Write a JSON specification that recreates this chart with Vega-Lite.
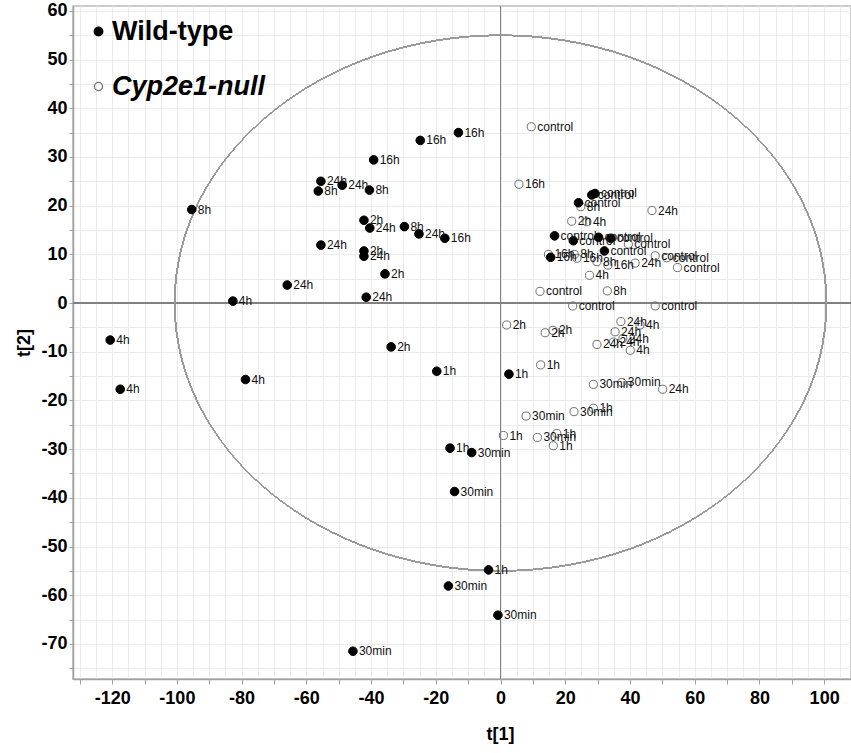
{
  "$schema": "https://vega.github.io/schema/vega-lite/v6.json",
  "width": 778,
  "height": 673,
  "autosize": {"type": "none"},
  "padding": {"left": 73, "top": 6, "right": 0, "bottom": 74},
  "background": "white",
  "config": {
    "view": {"stroke": "#cccccc", "strokeWidth": 2},
    "font": "Liberation Sans"
  },
  "data": {
    "values": [
      {"g": "Cyp2e1-null", "t1": 9.5, "t2": 36.2, "lab": "control"},
      {"g": "Cyp2e1-null", "t1": 12.2, "t2": 2.4, "lab": "control"},
      {"g": "Cyp2e1-null", "t1": 22.3, "t2": -0.6, "lab": "control"},
      {"g": "Cyp2e1-null", "t1": 47.8, "t2": -0.6, "lab": "control"},
      {"g": "Cyp2e1-null", "t1": 39.5, "t2": 12.1, "lab": "control"},
      {"g": "Cyp2e1-null", "t1": 47.8, "t2": 9.7, "lab": "control"},
      {"g": "Cyp2e1-null", "t1": 51.4, "t2": 9.3, "lab": "control"},
      {"g": "Cyp2e1-null", "t1": 54.7, "t2": 7.3, "lab": "control"},
      {"g": "Cyp2e1-null", "t1": 7.9, "t2": -23.2, "lab": "30min"},
      {"g": "Cyp2e1-null", "t1": 22.7, "t2": -22.3, "lab": "30min"},
      {"g": "Cyp2e1-null", "t1": 28.7, "t2": -16.7, "lab": "30min"},
      {"g": "Cyp2e1-null", "t1": 37.5, "t2": -16.3, "lab": "30min"},
      {"g": "Cyp2e1-null", "t1": 11.4, "t2": -27.6, "lab": "30min"},
      {"g": "Cyp2e1-null", "t1": 12.4, "t2": -12.7, "lab": "1h"},
      {"g": "Cyp2e1-null", "t1": 28.7, "t2": -21.6, "lab": "1h"},
      {"g": "Cyp2e1-null", "t1": 0.9, "t2": -27.2, "lab": "1h"},
      {"g": "Cyp2e1-null", "t1": 17.4, "t2": -26.8, "lab": "1h"},
      {"g": "Cyp2e1-null", "t1": 16.3, "t2": -29.3, "lab": "1h"},
      {"g": "Cyp2e1-null", "t1": 1.9, "t2": -4.5, "lab": "2h"},
      {"g": "Cyp2e1-null", "t1": 13.8, "t2": -6.1, "lab": "2h"},
      {"g": "Cyp2e1-null", "t1": 16.2, "t2": -5.6, "lab": "2h"},
      {"g": "Cyp2e1-null", "t1": 22.0, "t2": 16.8, "lab": "2h"},
      {"g": "Cyp2e1-null", "t1": 27.5, "t2": 5.7, "lab": "4h"},
      {"g": "Cyp2e1-null", "t1": 26.7, "t2": 16.7, "lab": "4h"},
      {"g": "Cyp2e1-null", "t1": 43.1, "t2": -4.5, "lab": "4h"},
      {"g": "Cyp2e1-null", "t1": 40.1, "t2": -9.7, "lab": "4h"},
      {"g": "Cyp2e1-null", "t1": 33.0, "t2": 2.5, "lab": "8h"},
      {"g": "Cyp2e1-null", "t1": 24.8, "t2": 19.8, "lab": "8h"},
      {"g": "Cyp2e1-null", "t1": 22.8, "t2": 10.0, "lab": "8h"},
      {"g": "Cyp2e1-null", "t1": 29.8, "t2": 8.5, "lab": "8h"},
      {"g": "Cyp2e1-null", "t1": 5.7, "t2": 24.4, "lab": "16h"},
      {"g": "Cyp2e1-null", "t1": 14.8, "t2": 10.0, "lab": "16h"},
      {"g": "Cyp2e1-null", "t1": 23.6, "t2": 9.2, "lab": "16h"},
      {"g": "Cyp2e1-null", "t1": 33.2, "t2": 7.8, "lab": "16h"},
      {"g": "Cyp2e1-null", "t1": 46.8, "t2": 19.0, "lab": "24h"},
      {"g": "Cyp2e1-null", "t1": 41.6, "t2": 8.2, "lab": "24h"},
      {"g": "Cyp2e1-null", "t1": 50.1, "t2": -17.7, "lab": "24h"},
      {"g": "Cyp2e1-null", "t1": 37.8, "t2": -7.3, "lab": "24h"},
      {"g": "Cyp2e1-null", "t1": 29.8, "t2": -8.5, "lab": "24h"},
      {"g": "Cyp2e1-null", "t1": 34.9, "t2": -8.0, "lab": "24h"},
      {"g": "Cyp2e1-null", "t1": 35.4, "t2": -5.9, "lab": "24h"},
      {"g": "Cyp2e1-null", "t1": 37.2, "t2": -3.8, "lab": "24h"},
      {"g": "Wild-type", "t1": 28.2, "t2": 22.2, "lab": "control"},
      {"g": "Wild-type", "t1": 29.2, "t2": 22.5, "lab": "control"},
      {"g": "Wild-type", "t1": 24.1, "t2": 20.6, "lab": "control"},
      {"g": "Wild-type", "t1": 16.7, "t2": 13.8, "lab": "control"},
      {"g": "Wild-type", "t1": 22.5, "t2": 12.8, "lab": "control"},
      {"g": "Wild-type", "t1": 30.3, "t2": 13.5, "lab": "control"},
      {"g": "Wild-type", "t1": 34.1, "t2": 13.3, "lab": "control"},
      {"g": "Wild-type", "t1": 32.1, "t2": 10.7, "lab": "control"},
      {"g": "Wild-type", "t1": -8.9, "t2": -30.7, "lab": "30min"},
      {"g": "Wild-type", "t1": -14.2, "t2": -38.7, "lab": "30min"},
      {"g": "Wild-type", "t1": -16.1, "t2": -58.1, "lab": "30min"},
      {"g": "Wild-type", "t1": -0.8, "t2": -64.1, "lab": "30min"},
      {"g": "Wild-type", "t1": -45.6, "t2": -71.5, "lab": "30min"},
      {"g": "Wild-type", "t1": -19.7, "t2": -14.0, "lab": "1h"},
      {"g": "Wild-type", "t1": 2.6, "t2": -14.6, "lab": "1h"},
      {"g": "Wild-type", "t1": -15.6, "t2": -29.8, "lab": "1h"},
      {"g": "Wild-type", "t1": -3.7, "t2": -54.8, "lab": "1h"},
      {"g": "Wild-type", "t1": -42.2, "t2": 17.0, "lab": "2h"},
      {"g": "Wild-type", "t1": -42.2, "t2": 10.7, "lab": "2h"},
      {"g": "Wild-type", "t1": -35.7, "t2": 6.0, "lab": "2h"},
      {"g": "Wild-type", "t1": -33.8, "t2": -9.0, "lab": "2h"},
      {"g": "Wild-type", "t1": -120.6, "t2": -7.6, "lab": "4h"},
      {"g": "Wild-type", "t1": -117.5, "t2": -17.7, "lab": "4h"},
      {"g": "Wild-type", "t1": -78.8, "t2": -15.7, "lab": "4h"},
      {"g": "Wild-type", "t1": -82.7, "t2": 0.4, "lab": "4h"},
      {"g": "Wild-type", "t1": -95.4, "t2": 19.2, "lab": "8h"},
      {"g": "Wild-type", "t1": -56.3, "t2": 23.0, "lab": "8h"},
      {"g": "Wild-type", "t1": -40.5, "t2": 23.2, "lab": "8h"},
      {"g": "Wild-type", "t1": -29.7, "t2": 15.7, "lab": "8h"},
      {"g": "Wild-type", "t1": -13.0, "t2": 35.0, "lab": "16h"},
      {"g": "Wild-type", "t1": -24.8, "t2": 33.4, "lab": "16h"},
      {"g": "Wild-type", "t1": -39.2, "t2": 29.4, "lab": "16h"},
      {"g": "Wild-type", "t1": -17.2, "t2": 13.3, "lab": "16h"},
      {"g": "Wild-type", "t1": 15.5, "t2": 9.4, "lab": "16h"},
      {"g": "Wild-type", "t1": -55.5, "t2": 25.0, "lab": "24h"},
      {"g": "Wild-type", "t1": -48.9, "t2": 24.2, "lab": "24h"},
      {"g": "Wild-type", "t1": -40.4, "t2": 15.4, "lab": "24h"},
      {"g": "Wild-type", "t1": -25.2, "t2": 14.2, "lab": "24h"},
      {"g": "Wild-type", "t1": -42.2, "t2": 9.6, "lab": "24h"},
      {"g": "Wild-type", "t1": -55.5, "t2": 11.9, "lab": "24h"},
      {"g": "Wild-type", "t1": -65.9, "t2": 3.7, "lab": "24h"},
      {"g": "Wild-type", "t1": -41.5, "t2": 1.2, "lab": "24h"}
    ]
  },
  "encoding": {
    "x": {
      "field": "t1", "type": "quantitative",
      "scale": {"domain": [-132.1, 108.3], "nice": false, "zero": false},
      "axis": {
        "values": [-130,-125,-120,-115,-110,-105,-100,-95,-90,-85,-80,-75,-70,-65,-60,-55,-50,-45,-40,-35,-30,-25,-20,-15,-10,-5,0,5,10,15,20,25,30,35,40,45,50,55,60,65,70,75,80,85,90,95,100,105],
        "grid": true, "gridColor": "#ebebeb", "gridWidth": 1,
        "domainColor": "#a0a0a0", "domainWidth": 1.5,
        "tickColor": "#a0a0a0", "tickSize": 5, "tickWidth": 1,
        "tickOpacity": {"condition": {"test": "datum.value % 10 === 0", "value": 1}, "value": 0},
        "labelExpr": "datum.value % 20 === 0 ? '' + datum.value : ''",
        "labelOverlap": false, "labelFlush": false, "labelBound": false,
        "labelFont": "Liberation Sans", "labelFontSize": 18, "labelFontWeight": "bold", "labelColor": "#000000",
        "labelPadding": 5,
        "title": "t[1]", "titleFont": "Liberation Sans", "titleFontSize": 18, "titleFontWeight": "bold", "titleColor": "#000000",
        "titleX": 427, "titleY": 46
      }
    },
    "y": {
      "field": "t2", "type": "quantitative",
      "scale": {"domain": [-77.2, 61], "nice": false, "zero": false},
      "axis": {
        "values": [-75,-70,-65,-60,-55,-50,-45,-40,-35,-30,-25,-20,-15,-10,-5,0,5,10,15,20,25,30,35,40,45,50,55,60],
        "grid": true, "gridColor": "#ebebeb", "gridWidth": 1,
        "domainColor": "#a0a0a0", "domainWidth": 1.5,
        "tickColor": "#a0a0a0", "tickSize": 4, "tickWidth": 1,
        "labelExpr": "datum.value % 10 === 0 ? '' + datum.value : ''",
        "labelOverlap": false, "labelFlush": false, "labelBound": false,
        "labelFont": "Liberation Sans", "labelFontSize": 18, "labelFontWeight": "bold", "labelColor": "#000000",
        "labelPadding": 2,
        "title": "t[2]", "titleFont": "Liberation Sans", "titleFontSize": 18, "titleFontWeight": "bold", "titleColor": "#000000",
        "titlePadding": 7
      }
    }
  },
  "layer": [
    {
      "mark": {"type": "rule", "color": "#808080", "strokeWidth": 1},
      "encoding": {"x": {"datum": 0}, "y": null}
    },
    {
      "mark": {"type": "rule", "color": "#808080", "strokeWidth": 1},
      "encoding": {"y": {"datum": 0}, "x": null}
    },
    {
      "mark": {
        "type": "point",
        "shape": "M-1,0C-1,-0.4538,-0.5523,-0.8217,0,-0.8217C0.5523,-0.8217,1,-0.4538,1,0C1,0.4538,0.5523,0.8217,0,0.8217C-0.5523,0.8217,-1,0.4538,-1,0Z",
        "size": 424843, "filled": false, "stroke": "#9a9a9a", "strokeWidth": 1, "opacity": 1
      },
      "encoding": {"x": {"datum": 0}, "y": {"datum": 0}}
    },
    {
      "mark": {"type": "point", "shape": "circle", "filled": true, "strokeWidth": 1, "opacity": 1},
      "encoding": {
        "fill": {
          "field": "g", "type": "nominal",
          "scale": {"domain": ["Wild-type", "Cyp2e1-null"], "range": ["#000000", "transparent"]},
          "legend": {
            "title": null, "orient": "top-left", "offset": 12, "padding": 0,
            "labelFont": "Liberation Sans", "labelFontSize": 27, "labelFontWeight": "bold", "labelColor": "#000000",
            "labelFontStyle": {"expr": "datum.label === 'Cyp2e1-null' ? 'italic' : 'normal'"},
            "rowPadding": 27, "symbolOffset": 0, "labelOffset": 0, "symbolStrokeWidth": 1.3
          }
        },
        "stroke": {
          "field": "g", "type": "nominal",
          "scale": {"domain": ["Wild-type", "Cyp2e1-null"], "range": ["#000000", "#6e6e6e"]}
        },
        "size": {
          "field": "g", "type": "nominal",
          "scale": {"domain": ["Wild-type", "Cyp2e1-null"], "range": [74, 66]}
        }
      }
    },
    {
      "mark": {"type": "text", "align": "left", "baseline": "middle", "dx": 6, "fontSize": 12, "font": "Liberation Sans", "color": "#111111"},
      "encoding": {"text": {"field": "lab", "type": "nominal"}}
    }
  ]
}
